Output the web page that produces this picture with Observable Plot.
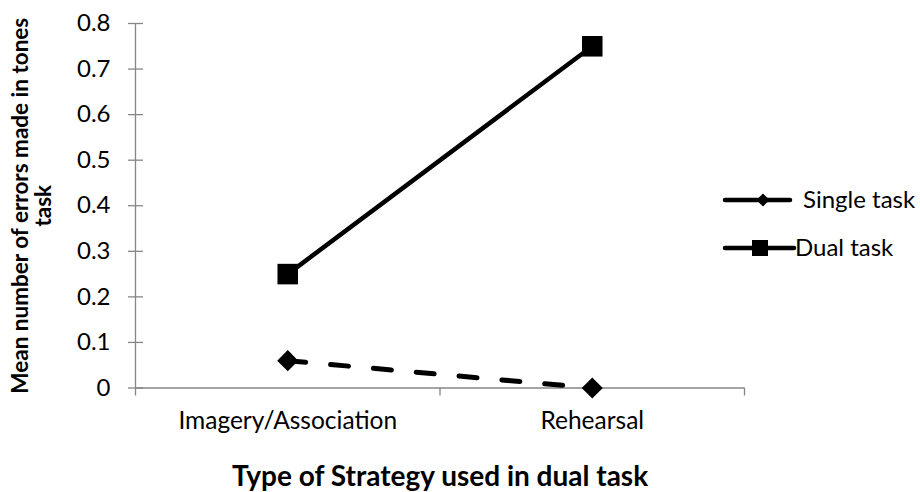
<!DOCTYPE html>
<html>
<head>
<meta charset="utf-8">
<script src="https://cdn.jsdelivr.net/npm/d3@7"></script>
<script src="https://cdn.jsdelivr.net/npm/@observablehq/plot@0.6"></script>
<style>
  html, body { margin: 0; padding: 0; background: #fff; }
  #wrap { position: relative; width: 920px; height: 492px; font-family: Lato, "Open Sans", sans-serif; }
  #legend { position: absolute; left: 0; top: 0; pointer-events: none; }
</style>
</head>
<body>
<div id="wrap"></div>
<script>
const categories = ["Imagery/Association", "Rehearsal"];
const seriesNames = ["Single task", "Dual task"];
const singleTask = [0.06, 0];
const dualTask = [0.25, 0.75];
const yTicks = [0, 0.1, 0.2, 0.3, 0.4, 0.5, 0.6, 0.7, 0.8];
const xTitle = "Type of Strategy used in dual task";
const yTitleLines = ["Mean number of errors made in tones", "task"];

const rows = [];
categories.forEach((c, i) => {
  rows.push({series: seriesNames[0], i, value: singleTask[i]});
  rows.push({series: seriesNames[1], i, value: dualTask[i]});
});
const single = rows.filter(d => d.series === seriesNames[0]);
const dual = rows.filter(d => d.series === seriesNames[1]);
const boundaries = d3.range(categories.length + 1).map(k => k - 0.5);
const gray = "#868686";
const fmt = d => (d === 0 ? "0" : d.toFixed(1));

const W = 920, H = 492;
const mL = 135, mR = 176, mT = 23, mB = 104.5;

const chart = Plot.plot({
  width: W,
  height: H,
  marginLeft: mL,
  marginRight: mR,
  marginTop: mT,
  marginBottom: mB,
  style: {fontFamily: "Lato, 'Open Sans', sans-serif", background: "#fff", overflow: "visible"},
  x: {type: "linear", domain: [-0.5, categories.length - 0.5], axis: null},
  y: {type: "linear", domain: [0, 0.8], axis: null},
  marks: [
    Plot.ruleX([-0.5], {stroke: gray, strokeWidth: 1.3}),
    Plot.ruleY([0], {stroke: gray, strokeWidth: 1.3}),
    Plot.ruleY(yTicks, {y: d => d, x1: -0.5, x2: -0.5, insetLeft: -7, insetRight: -8, stroke: gray, strokeWidth: 1.3}),
    Plot.axisY(yTicks, {tickSize: 0, tickPadding: 25, tickFormat: fmt, fontSize: 24, fill: "#000", textAnchor: "end", label: null}),
    Plot.axisX(boundaries, {tickSize: 8, tickFormat: () => "", stroke: gray, strokeWidth: 1.3, label: null}),
    Plot.axisX(d3.range(categories.length), {tickSize: 0, tickPadding: 24, tickFormat: i => categories[i], fontSize: 24.5, fill: "#000", label: null}),
    Plot.line(single, {x: "i", y: "value", stroke: "#000", strokeWidth: 5, strokeDasharray: "18,25", strokeLinecap: "round"}),
    Plot.line(dual, {x: "i", y: "value", stroke: "#000", strokeWidth: 4.5}),
    Plot.dot(single, {x: "i", y: "value", symbol: "diamond2", r: 9.5, fill: "#000", stroke: null}),
    Plot.dot(dual, {x: "i", y: "value", symbol: "square", r: 11.6, fill: "#000", stroke: null}),
    Plot.text([xTitle], {frameAnchor: "bottom", dy: 98, text: d => d, fontSize: 28, fontWeight: "bold", fill: "#000", lineAnchor: "bottom"}),
    Plot.text([yTitleLines.join("\n")], {frameAnchor: "left", dx: -103, text: d => d, rotate: -90, textAnchor: "middle", fontSize: 22.5, fontWeight: "bold", fill: "#000", lineHeight: 1.0, lineAnchor: "middle"})
  ]
});
document.getElementById("wrap").appendChild(chart);

const ns = "http://www.w3.org/2000/svg";
const lg = document.createElementNS(ns, "svg");
lg.setAttribute("id", "legend");
lg.setAttribute("width", W);
lg.setAttribute("height", H);
const items = [
  {name: seriesNames[0], y: 200, symbol: d3.symbolDiamond2, size: 110, x1: 725, x2: 790, mx: 763, tx: 803},
  {name: seriesNames[1], y: 248, symbol: d3.symbolSquare, size: 256, x1: 725, x2: 794, mx: 760, tx: 795}
];
items.forEach(it => {
  const l = document.createElementNS(ns, "line");
  l.setAttribute("x1", it.x1); l.setAttribute("x2", it.x2);
  l.setAttribute("y1", it.y); l.setAttribute("y2", it.y);
  l.setAttribute("stroke", "#000"); l.setAttribute("stroke-width", 4.5);
  l.setAttribute("stroke-linecap", "round");
  lg.appendChild(l);
  const p = document.createElementNS(ns, "path");
  p.setAttribute("d", d3.symbol(it.symbol, it.size)());
  p.setAttribute("transform", `translate(${it.mx},${it.y})`);
  p.setAttribute("fill", "#000");
  lg.appendChild(p);
  const t = document.createElementNS(ns, "text");
  t.setAttribute("x", it.tx); t.setAttribute("y", it.y);
  t.setAttribute("dy", "0.35em");
  t.setAttribute("font-size", 24);
  t.setAttribute("font-family", "Lato, 'Open Sans', sans-serif");
  t.textContent = it.name;
  lg.appendChild(t);
});
document.getElementById("wrap").appendChild(lg);
</script>
</body>
</html>
